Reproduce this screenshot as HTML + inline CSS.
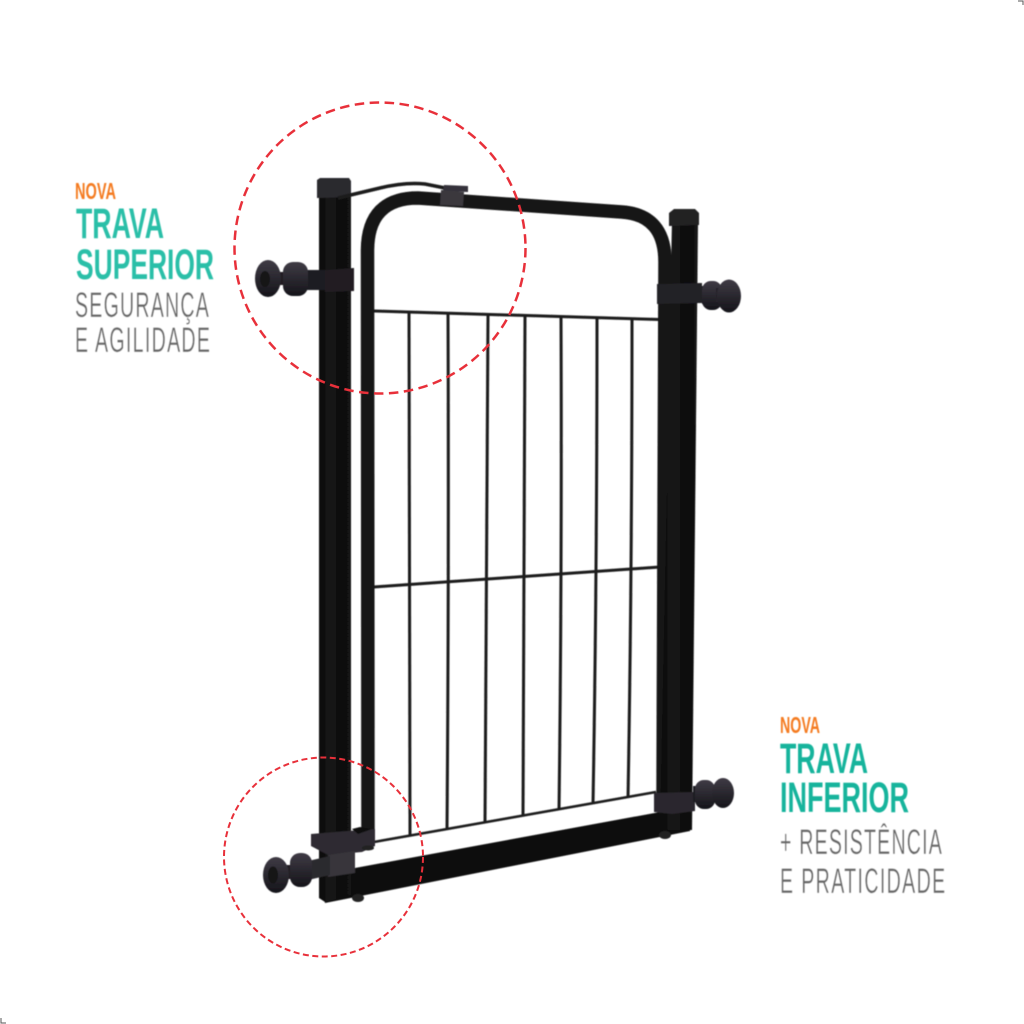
<!DOCTYPE html>
<html>
<head>
<meta charset="utf-8">
<style>
html,body{margin:0;padding:0;background:#fff;width:1024px;height:1024px;overflow:hidden}
svg{display:block}
text{font-family:"Liberation Sans",sans-serif}
.o{font-weight:700;font-size:23px;fill:#f47b20}
.t{font-weight:700;font-size:43px;fill:#2bbfa8}
.t2{font-weight:700;font-size:43px;fill:#14b49c}
.g{font-size:35px;fill:#666;stroke:#fff;stroke-width:.3px}
</style>
</head>
<body>
<svg width="1024" height="1024" viewBox="0 0 1024 1024" xmlns="http://www.w3.org/2000/svg">
<defs>
<filter id="b" x="-5%" y="-5%" width="110%" height="110%"><feGaussianBlur stdDeviation="0.6"/></filter>
<filter id="b2" x="-5%" y="-5%" width="110%" height="110%"><feGaussianBlur stdDeviation="0.4"/></filter>
<linearGradient id="k" x1="0" y1="0" x2="0" y2="1"><stop offset="0" stop-color="#3f3b45"/><stop offset=".5" stop-color="#2a282f"/><stop offset="1" stop-color="#15141a"/></linearGradient>
<linearGradient id="p" x1="0" y1="0" x2="1" y2="0"><stop offset="0" stop-color="#0d0d0d"/><stop offset=".5" stop-color="#181818"/><stop offset=".56" stop-color="#0c0c0c"/><stop offset="1" stop-color="#131313"/></linearGradient>
</defs>

<g filter="url(#b)">
<!-- wires -->
<g stroke="#1d1d1d" stroke-width="3" fill="none">
<path d="M374,311 L660,319.500"/>
<path d="M374,587 L660,567"/>
<path d="M374,842 L656,792" stroke-width="2.600"/>
<path d="M409,312 Q410,575 410,836"/>
<path d="M448,314 Q449,575 447,829"/>
<path d="M488,315 Q487,575 485,823"/>
<path d="M525,316 Q525,575 523,816"/>
<path d="M561,317 Q562,575 559,810"/>
<path d="M597,318 Q597,575 593,804"/>
<path d="M632,319 Q632,575 628,798"/>
</g>

<!-- gate tube -->
<path d="M368,845 L367.500,250 Q368,198 418,198 L622,212 Q665,215 665,262 L663,800" fill="none" stroke="#141414" stroke-width="13.500"/>

<!-- bottom rail -->
<path d="M322,880 L355,868 L660,812 L690,806 L690,831 L325,903 Z" fill="#0f0f0f"/>
<ellipse cx="358" cy="898" rx="6" ry="4" fill="#222"/>
<ellipse cx="665" cy="835" rx="6" ry="4" fill="#222"/>

<!-- left post -->
<path d="M319,190 H351 V895 L325,902 L319,898 Z" fill="url(#p)"/>
<path d="M317,180 L320,178 L349,178 L351,181 L351,197 L317,198 Z" fill="#2b292e"/>

<!-- right post -->
<path d="M672,220 L698,220 L692,830 L660,830 Z" fill="url(#p)"/>
<path d="M669,213 L674,209 L695,209 L699,213 L699,225 L669,226 Z" fill="#222024"/>

<!-- latch wire -->
<path d="M338,198 L380,188 Q405,182 425,184 L445,188" fill="none" stroke="#1c1c1c" stroke-width="3.500"/>
<path d="M444,185 L468,186 L468,192 L443,191 Z" fill="#35333a"/>
<path d="M441,190 L464,192 L463,206 L440,205 Z" fill="#3a383e"/>

<!-- top left knob -->
<rect x="305" y="270" width="22" height="20" fill="#1d1b20"/>
<rect x="278" y="272" width="16" height="13" fill="#201e23"/>
<rect x="283" y="262" width="25" height="34" rx="10" fill="url(#k)"/>
<ellipse cx="268" cy="278.500" rx="13" ry="18.500" fill="url(#k)"/>
<ellipse cx="265" cy="279" rx="5" ry="8" fill="#141318"/>
<path d="M325,270 L354,268 L354,291 L325,292 Z" fill="#201e22"/>

<!-- top right knob -->
<path d="M657,284 L702,283 L702,303 L657,304 Z" fill="#242226"/>
<rect x="702" y="286" width="8" height="18" fill="#1d1b20"/>
<rect x="702" y="281" width="20" height="29" rx="9" fill="url(#k)"/>
<rect x="716" y="288" width="10" height="14" fill="#26242a"/>
<ellipse cx="729" cy="296" rx="12" ry="16.500" fill="url(#k)"/>

<!-- bottom right knob -->
<path d="M654,793 L695,792 L695,811 L672,814 L654,812 Z" fill="#2a282d"/>
<rect x="693" y="786" width="8" height="16" fill="#1d1b20"/>
<rect x="695" y="780" width="20" height="29" rx="9" fill="url(#k)"/>
<ellipse cx="723" cy="793" rx="11" ry="15" fill="url(#k)"/>

<!-- bottom left bracket and knob -->
<path d="M311,834 L360,830 L375,829 L375,846 L362,852 L328,855 L311,846 Z" fill="#2d2b30"/>
<path d="M352,829 L360,827 L372,829 L358,834 Z" fill="#111"/>
<path d="M328,855 L355,851 L355,873 L328,877 Z" fill="#37353a"/>
<ellipse cx="368" cy="848" rx="6" ry="2.500" fill="#222"/>
<path d="M308,861 L330,856 L330,875 L308,880 Z" fill="#2b292e"/>
<rect x="284" y="865" width="10" height="14" fill="#201e23"/>
<rect x="290" y="853" width="22" height="34" rx="10" fill="url(#k)"/>
<ellipse cx="276" cy="875" rx="13" ry="18" fill="url(#k)"/>
<ellipse cx="273" cy="875" rx="5" ry="8.500" fill="#141318"/>
</g>

<!-- dashed circles -->
<circle cx="380" cy="248" r="145.500" fill="none" stroke="#e8303a" stroke-width="2.500" stroke-dasharray="9.500 5.500"/>
<circle cx="323.500" cy="857" r="99.500" fill="none" stroke="#e8303a" stroke-width="2" stroke-dasharray="6 3.500"/>

<!-- text left -->
<g filter="url(#b2)">
<text class="o" x="75" y="199" textLength="41" lengthAdjust="spacingAndGlyphs">NOVA</text>
<text class="t" x="76" y="238" textLength="88" lengthAdjust="spacingAndGlyphs">TRAVA</text>
<text class="t" x="76" y="279" textLength="138" lengthAdjust="spacingAndGlyphs">SUPERIOR</text>
<text class="g" transform="translate(75,317) scale(.56,1)" textLength="239" lengthAdjust="spacing">SEGURANÇA</text>
<text class="g" transform="translate(75,352) scale(.56,1)" textLength="241" lengthAdjust="spacing">E AGILIDADE</text>

<!-- text right -->
<text class="o" x="780" y="733" textLength="40" lengthAdjust="spacingAndGlyphs">NOVA</text>
<text class="t2" x="780" y="773" textLength="88" lengthAdjust="spacingAndGlyphs">TRAVA</text>
<text class="t2" x="780" y="812" textLength="129" lengthAdjust="spacingAndGlyphs">INFERIOR</text>
<text class="g" transform="translate(780,854) scale(.56,1)" textLength="289" lengthAdjust="spacing">+ RESISTÊNCIA</text>
<text class="g" transform="translate(780,893) scale(.56,1)" textLength="295" lengthAdjust="spacing">E PRATICIDADE</text>
</g>

<!-- corner marks -->
<path d="M1018,1 H1023 V5" fill="none" stroke="#555" stroke-width="1"/>
<path d="M1,1018 V1023 H6" fill="none" stroke="#555" stroke-width="1"/>
</svg>
</body>
</html>
